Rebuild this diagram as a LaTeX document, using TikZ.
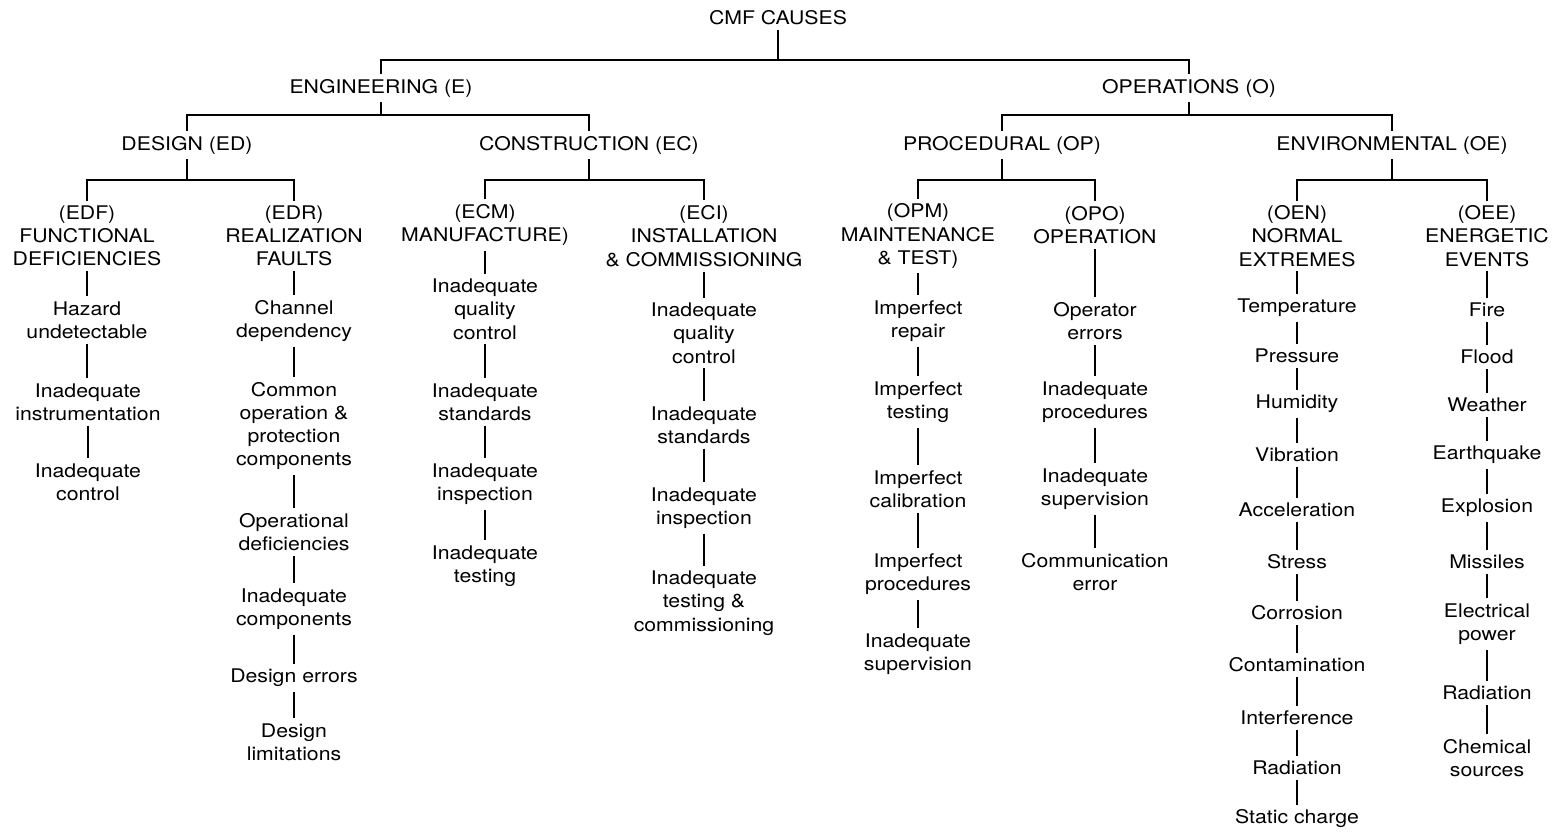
\documentclass[tikz,border=0pt]{standalone}
\usepackage{fontspec}
\setmainfont{TeX Gyre Heros}[FakeStretch=1.13]
\begin{document}
\begin{tikzpicture}[x=0.5pt,y=-0.5pt,
  lbl/.style={align=center,inner sep=0pt,outer sep=2.5pt,
    font=\fontsize{9.4}{11.65}\selectfont},
  link/.style={line width=1.35pt}]
\useasboundingbox (0,0) rectangle (1562,833);

% ---- top levels ----
\node[lbl] (cmf) at (778,18) {CMF CAUSES};
\node[lbl] (eng) at (381,88) {ENGINEERING (E)};
\node[lbl] (ops) at (1189,88) {OPERATIONS (O)};
\node[lbl] (ed)  at (187,145) {DESIGN (ED)};
\node[lbl] (ec)  at (589,145) {CONSTRUCTION (EC)};
\node[lbl] (op)  at (1002,145) {PROCEDURAL (OP)};
\node[lbl] (oe)  at (1392,145) {ENVIRONMENTAL (OE)};

% ---- category heads ----
\node[lbl] (edf) at (87,236)  {(EDF)\\FUNCTIONAL\\DEFICIENCIES};
\node[lbl] (edr) at (294,236) {(EDR)\\REALIZATION\\FAULTS};
\node[lbl] (ecm) at (485,225) {(ECM)\\MANUFACTURE)};
\node[lbl] (eci) at (704,236) {(ECI)\\INSTALLATION\\\& COMMISSIONING};
\node[lbl] (opm) at (918,236) {(OPM)\\MAINTENANCE\\\& TEST)};
\node[lbl] (opo) at (1095,225) {(OPO)\\OPERATION};
\node[lbl] (oen) at (1297,236) {(OEN)\\NORMAL\\EXTREMES};
\node[lbl] (oee) at (1487,236) {(OEE)\\ENERGETIC\\EVENTS};

% ---- functional deficiencies ----
\node[lbl] (h1) at (87,320) {Hazard\\undetectable};
\node[lbl] (h2) at (88,402) {Inadequate\\instrumentation};
\node[lbl] (h3) at (88,482) {Inadequate\\control};

% ---- realization faults ----
\node[lbl] (r1) at (294,321) {Channel\\dependency};
\node[lbl] (r2) at (294,426) {Common\\operation \&\\protection\\components};
\node[lbl] (r3) at (294,532) {Operational\\deficiencies};
\node[lbl] (r4) at (294,609) {Inadequate\\components};
\node[lbl] (r5) at (294,678) {Design errors};
\node[lbl] (r6) at (294,742) {Design\\limitations};

% ---- manufacture ----
\node[lbl] (m1) at (485,309) {Inadequate\\quality\\control};
\node[lbl] (m2) at (485,402) {Inadequate\\standards};
\node[lbl] (m3) at (485,484) {Inadequate\\inspection};
\node[lbl] (m4) at (485,566) {Inadequate\\testing};

% ---- installation & commissioning ----
\node[lbl] (i1) at (704,333) {Inadequate\\quality\\control};
\node[lbl] (i2) at (704,425) {Inadequate\\standards};
\node[lbl] (i3) at (704,508) {Inadequate\\inspection};
\node[lbl] (i4) at (704,603) {Inadequate\\testing \&\\commissioning};

% ---- maintenance & test ----
\node[lbl] (p1) at (918,321) {Imperfect\\repair};
\node[lbl] (p2) at (918,402) {Imperfect\\testing};
\node[lbl] (p3) at (918,489) {Imperfect\\calibration};
\node[lbl] (p4) at (918,574) {Imperfect\\procedures};
\node[lbl] (p5) at (918,654) {Inadequate\\supervision};

% ---- operation ----
\node[lbl] (o1) at (1095,321) {Operator\\errors};
\node[lbl] (o2) at (1095,402) {Inadequate\\procedures};
\node[lbl] (o3) at (1095,489) {Inadequate\\supervision};
\node[lbl] (o4) at (1095,572) {Communication\\error};

% ---- normal extremes ----
\node[lbl] (n1)  at (1297,308) {Temperature};
\node[lbl] (n2)  at (1297,356) {Pressure};
\node[lbl] (n3)  at (1297,404) {Humidity};
\node[lbl] (n4)  at (1297,455) {Vibration};
\node[lbl] (n5)  at (1297,510) {Acceleration};
\node[lbl] (n6)  at (1297,562) {Stress};
\node[lbl] (n7)  at (1297,613) {Corrosion};
\node[lbl] (n8)  at (1297,665) {Contamination};
\node[lbl] (n9)  at (1297,718) {Interference};
\node[lbl] (n10) at (1297,768) {Radiation};
\node[lbl] (n11) at (1297,819) {Static charge};

% ---- energetic events ----
\node[lbl] (e1) at (1487,310) {Fire};
\node[lbl] (e2) at (1487,357) {Flood};
\node[lbl] (e3) at (1487,405) {Weather};
\node[lbl] (e4) at (1487,455) {Earthquake};
\node[lbl] (e5) at (1487,508) {Explosion};
\node[lbl] (e6) at (1487,562) {Missiles};
\node[lbl] (e7) at (1487,624) {Electrical\\power};
\node[lbl] (e8) at (1487,693) {Radiation};
\node[lbl] (e9) at (1487,758) {Chemical\\sources};

% ---- branching bars ----
\coordinate (bCMF) at (778,60);
\coordinate (bE)   at (381,115);
\coordinate (bO)   at (1189,115);
\coordinate (bED)  at (187,180);
\coordinate (bEC)  at (589,180);
\coordinate (bOP)  at (1002,180);
\coordinate (bOE)  at (1392,180);

\draw[link] (cmf.south) -- (bCMF);
\draw[link] (eng.north) |- (bCMF) -| (ops.north);
\draw[link] (eng.south) -- (bE);
\draw[link] (ed.north) |- (bE) -| (ec.north);
\draw[link] (ops.south) -- (bO);
\draw[link] (op.north) |- (bO) -| (oe.north);
\draw[link] (ed.south) -- (bED);
\draw[link] (edf.north) |- (bED) -| (edr.north);
\draw[link] (ec.south) -- (bEC);
\draw[link] (ecm.north) |- (bEC) -| (eci.north);
\draw[link] (op.south) -- (bOP);
\draw[link] (opm.north) |- (bOP) -| (opo.north);
\draw[link] (oe.south) -- (bOE);
\draw[link] (oen.north) |- (bOE) -| (oee.north);

% ---- vertical chains ----
\foreach \a/\b in {edf/h1,h1/h2,h2/h3,
    edr/r1,r1/r2,r2/r3,r3/r4,r4/r5,r5/r6,
    ecm/m1,m1/m2,m2/m3,m3/m4,
    eci/i1,i1/i2,i2/i3,i3/i4,
    opm/p1,p1/p2,p2/p3,p3/p4,p4/p5,
    opo/o1,o1/o2,o2/o3,o3/o4,
    oen/n1,n1/n2,n2/n3,n3/n4,n4/n5,n5/n6,n6/n7,n7/n8,n8/n9,n9/n10,n10/n11,
    oee/e1,e1/e2,e2/e3,e3/e4,e4/e5,e5/e6,e6/e7,e7/e8,e8/e9}
  \draw[link] (\a.south) -- (\a.south |- \b.north);
\end{tikzpicture}
\end{document}
